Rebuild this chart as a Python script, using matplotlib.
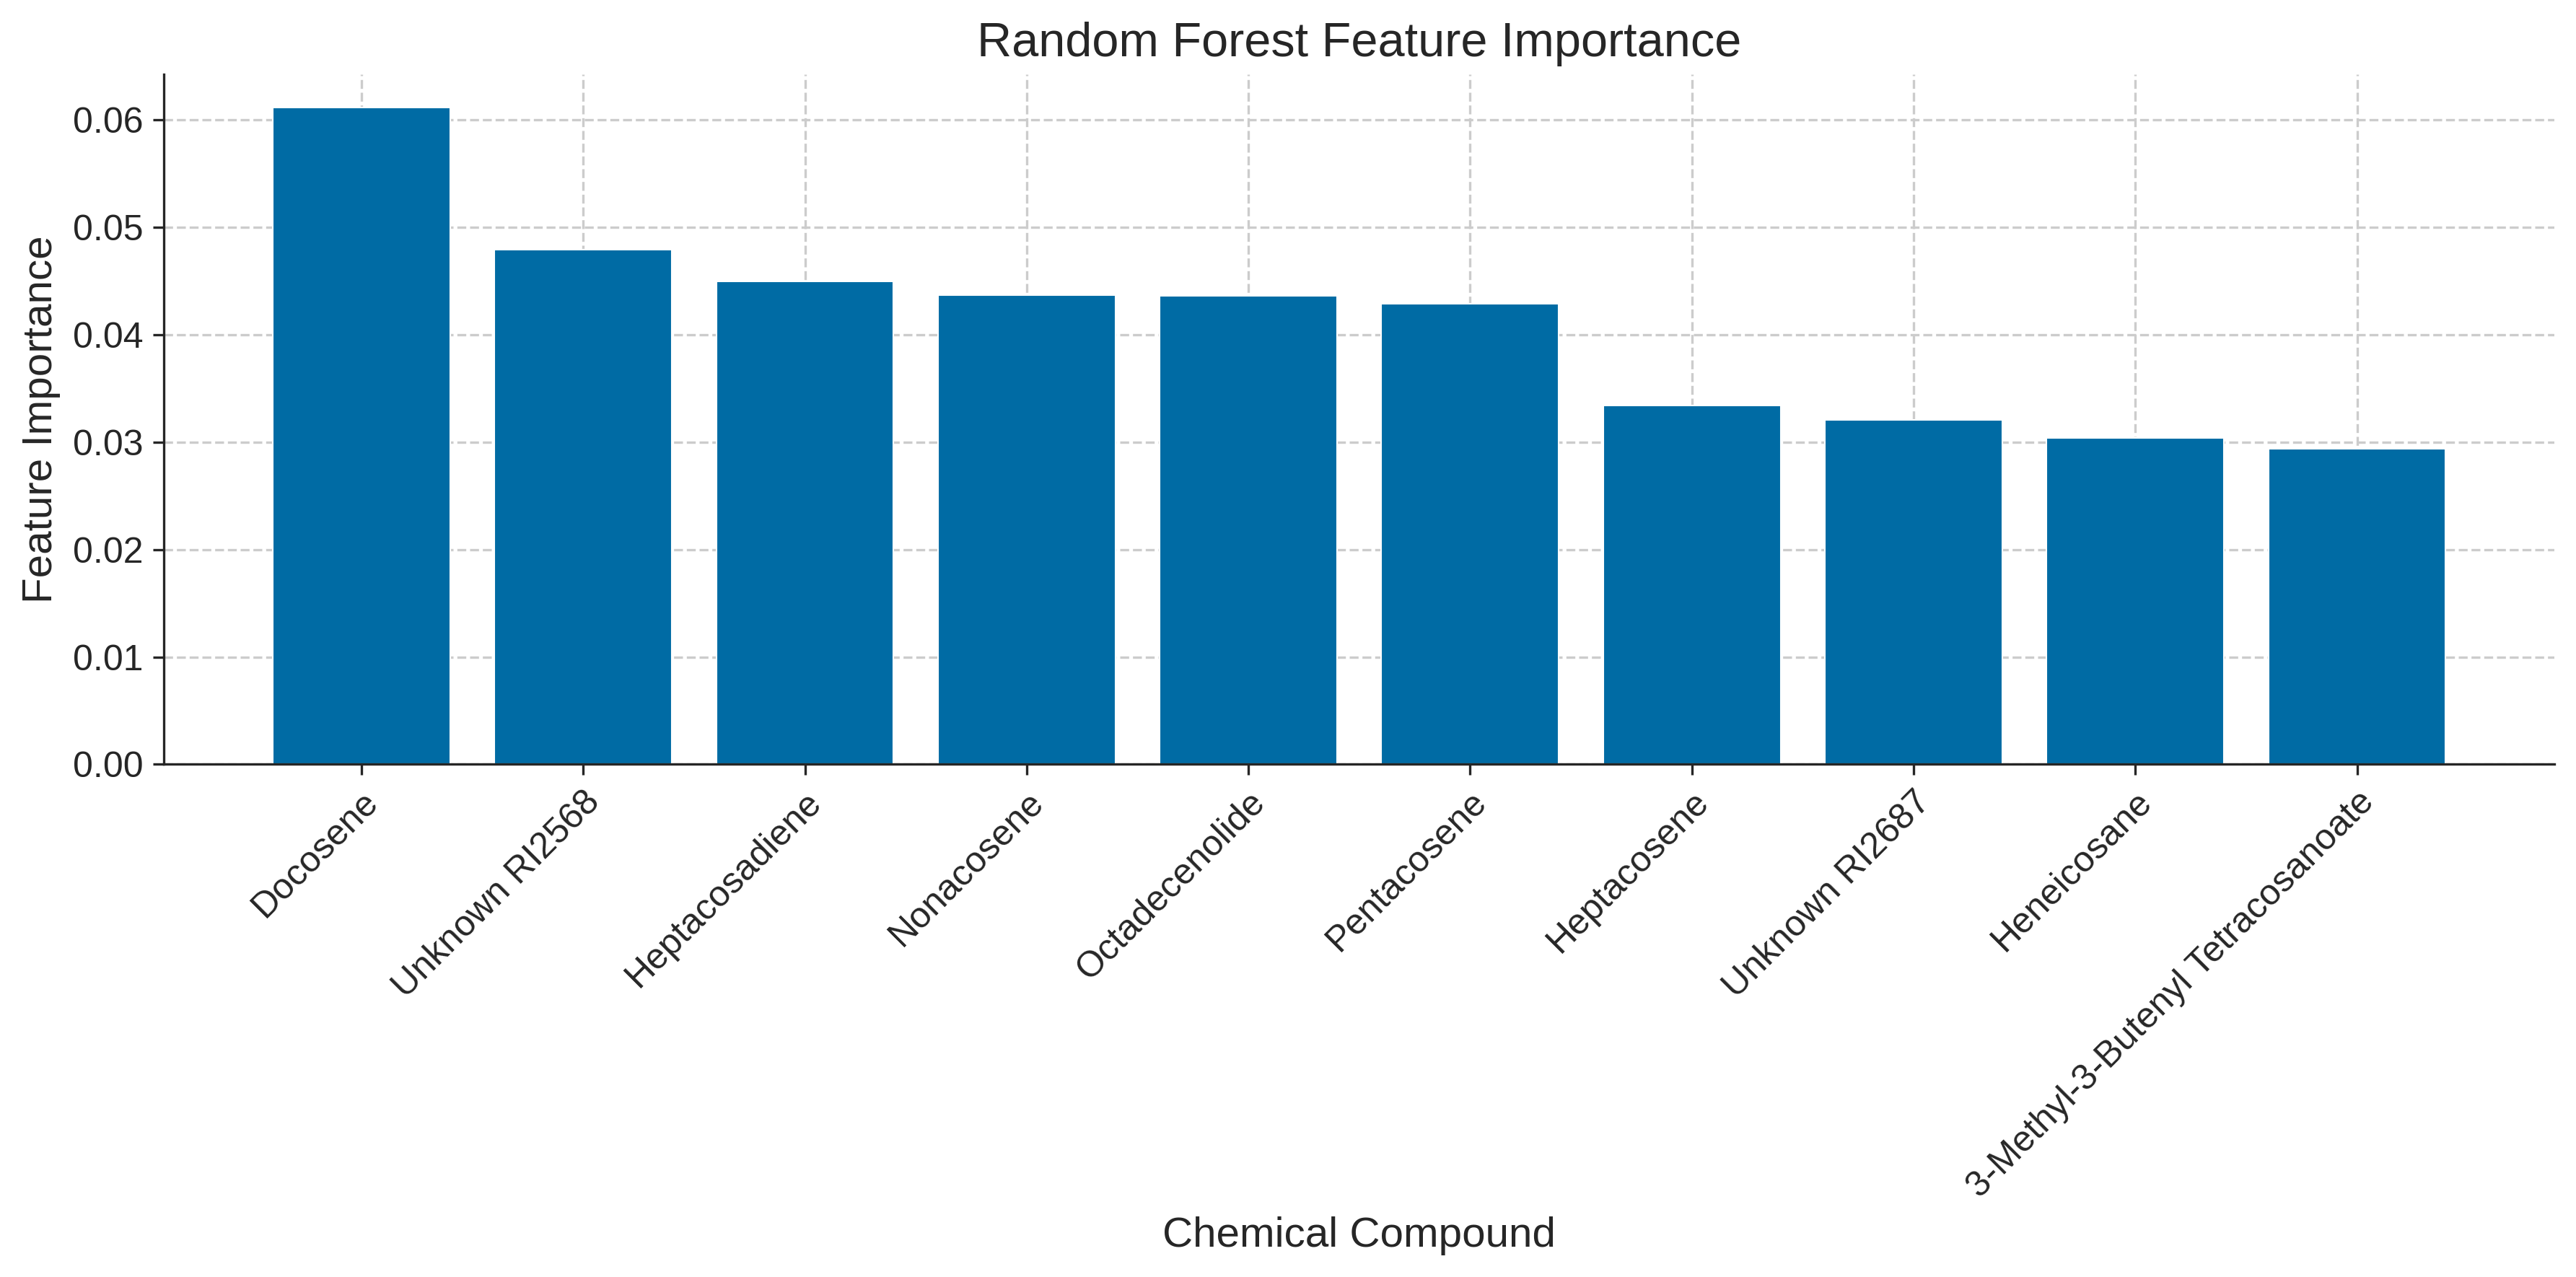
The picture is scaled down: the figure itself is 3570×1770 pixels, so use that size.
import matplotlib
matplotlib.use("Agg")
import matplotlib.pyplot as plt
import seaborn as sns

compounds = ['Docosene', 'Unknown RI2568', 'Heptacosadiene', 'Nonacosene',
             'Octadecenolide', 'Pentacosene', 'Heptacosene', 'Unknown RI2687',
             'Heneicosane', '3-Methyl-3-Butenyl Tetracosanoate']
importances = [0.0612, 0.0479, 0.0450, 0.0437, 0.0436, 0.0429,
               0.0334, 0.0321, 0.0304, 0.0294]

sns.set_style('ticks', {'axes.grid': True, 'grid.linestyle': '--',
                        'grid.color': '#cccccc'})
plt.rcParams['font.family'] = ['Liberation Sans', 'DejaVu Sans']

fig, ax = plt.subplots(figsize=(12, 6), dpi=300)

ax.bar(compounds, importances, color='#006BA4', edgecolor='white', linewidth=0.5)
ax.set_axisbelow(True)
ax.grid(True, linestyle='--', linewidth=0.8, color='#cccccc')

ax.set_title('Random Forest Feature Importance', fontsize=16)
ax.set_xlabel('Chemical Compound', fontsize=14)
ax.set_ylabel('Feature Importance', fontsize=14)
ax.tick_params(axis='both', labelsize=12)
plt.setp(ax.get_xticklabels(), rotation=45, ha='right', rotation_mode='anchor')
sns.despine(ax=ax)

fig.tight_layout()
fig.savefig('out.png', dpi=300, bbox_inches='tight')
